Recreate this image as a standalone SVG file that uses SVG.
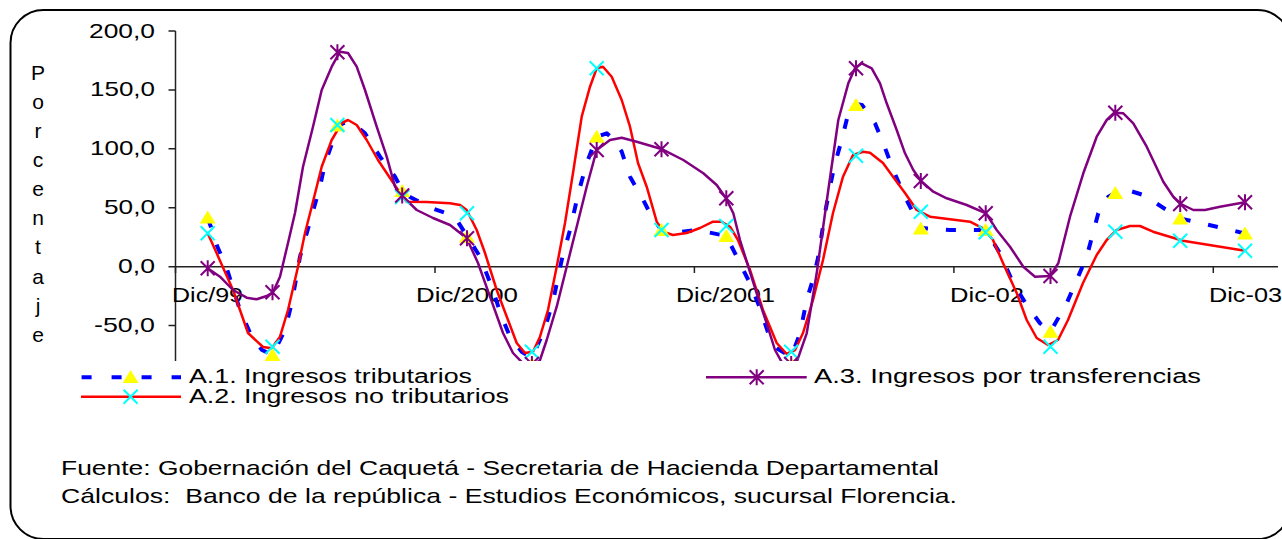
<svg xmlns="http://www.w3.org/2000/svg" width="1282" height="539" viewBox="0 0 1282 539">
<style>
.t{font-family:"Liberation Sans",Arial,sans-serif;font-size:21px;fill:#000}
.lg{font-size:20px}
.ax{stroke:#222;stroke-width:1.5;fill:none}
.blue{fill:none;stroke:#0000FF;stroke-width:4;stroke-dasharray:10,18;stroke-linejoin:round}
.red{fill:none;stroke:#FF0000;stroke-width:2.5;stroke-linejoin:round;stroke-linecap:round}
.pur{fill:none;stroke:#800080;stroke-width:2.5;stroke-linejoin:round;stroke-linecap:round}
</style>
<defs>
<clipPath id="plot"><rect x="175" y="0" width="1107" height="361"/></clipPath>
<path id="tri" d="M0,-7 L8,6 L-8,6 Z" fill="#FFFF00"/>
<path id="xm" d="M-7,-7 L7,7 M-7,7 L7,-7" stroke="#00FFFF" stroke-width="2" fill="none"/>
<path id="as" d="M-7,-7 L7,7 M-7,7 L7,-7 M0,-8 L0,8" stroke="#800080" stroke-width="2" fill="none"/>
</defs>
<rect width="1282" height="539" fill="#fff"/>
<rect id="frame" x="10.5" y="10" width="1280" height="529" rx="33" ry="33" fill="none" stroke="#000" stroke-width="2"/>

<g id="yaxis-title" class="t" text-anchor="middle">
<text x="38" y="79.8">P</text><text x="38" y="108.9">o</text><text x="38" y="138">r</text><text x="38" y="167.1">c</text><text x="38" y="196.2">e</text><text x="38" y="225.3">n</text><text x="38" y="254.4">t</text><text x="38" y="283.5">a</text><text x="38" y="312.6">j</text><text x="38" y="341.7">e</text>
</g>

<g id="axes">
<path class="ax" d="M175.5,31 V361 M168.5,31 H175.5 M168.5,89.9 H175.5 M168.5,148.8 H175.5 M168.5,207.8 H175.5 M168.5,266.7 H175.5 M168.5,325.6 H175.5"/>
<path class="ax" d="M175.5,266.7 H1278 M175.5,266.7 V273 M435,266.7 V273 M694.4,266.7 V273 M953.9,266.7 V273 M1213.3,266.7 V273"/>
<g class="t" text-anchor="end">
<text x="155" y="37.5" textLength="66" lengthAdjust="spacingAndGlyphs">200,0</text>
<text x="155" y="96.2" textLength="65" lengthAdjust="spacingAndGlyphs">150,0</text>
<text x="155" y="155.3" textLength="65" lengthAdjust="spacingAndGlyphs">100,0</text>
<text x="155" y="214.3" textLength="51" lengthAdjust="spacingAndGlyphs">50,0</text>
<text x="155" y="273.2" textLength="37" lengthAdjust="spacingAndGlyphs">0,0</text>
<text x="155" y="332.1" textLength="61" lengthAdjust="spacingAndGlyphs">-50,0</text>
</g>
<g class="t">
<text x="172" y="302" textLength="71" lengthAdjust="spacingAndGlyphs">Dic/99</text>
<text x="416" y="302" textLength="102" lengthAdjust="spacingAndGlyphs">Dic/2000</text>
<text x="676" y="302" textLength="99" lengthAdjust="spacingAndGlyphs">Dic/2001</text>
<text x="950" y="302" textLength="74" lengthAdjust="spacingAndGlyphs">Dic-02</text>
<text x="1209" y="302" textLength="73" lengthAdjust="spacingAndGlyphs">Dic-03</text>
</g>
</g>

<g id="connectors" clip-path="url(#plot)">
<polyline id="line-a1" class="blue" points="207.7,218 212,230 216.7,245 226.7,268.3 240,310 251.7,336.7 262,350 272.5,355 285,330 291.7,303.3 300,256.7 306.7,233.3 313.3,210 320,186.7 325,163.3 333.3,140 337.4,126 346.7,121.7 355,125 365,133.3 380,156.7 395,176.7 402.2,190 410,197 431.7,208.3 446.7,213.3 458,222 467,236 480,256.7 491.7,286.7 501.7,316.7 510,336.7 521.7,351.7 531.9,358 545,328.3 553.3,300 561.7,260 570,230 578.3,193.3 586.7,163.3 596.7,137 606.7,133.3 614,140 621.7,151.7 630,176.7 643.3,200 651.7,216.7 661.5,230 670,233.3 696.7,230 726.3,236 740,263.3 750,283.3 760,308.3 768.3,333.3 776.7,348.3 791.2,357 800,333.3 806.7,300 813.3,278.3 818.3,256.7 825,213.3 830,186.7 835,163.3 841.7,140 848.3,113.3 856,104 862,105 875,123.3 883.3,143.3 893.3,170 903.3,193.3 913.3,213.3 920.8,228 950,230 985.7,230 1000,253.3 1013.3,283.3 1026.7,305 1040,323.3 1050.5,331.7 1066.7,303.3 1076.7,280 1086.7,256.7 1098.3,213.3 1108.3,196.7 1115.3,193 1121.7,188.3 1143.3,195 1166.7,210 1180.2,218.5 1216.7,226.7 1245,233.5"/>
<polyline id="line-a2" class="red" points="207.7,233.3 216.7,253.3 233,290 248,333 263,347 271.7,348.3 280,336.7 288,310 298,266.7 305,233 311.7,206.7 321.7,166.7 331.7,140 341.7,123 348,120 356.7,125 366.7,140 378,160 390,178 400,193 406.7,201.7 426.7,202 450,203.3 460,205 466.7,210 476.7,230 485,253 496.7,290 508,320 516.7,343 525,353 533,351.7 540,336.7 548,310 556.7,266.7 565,223 573,173 581.7,116.7 590,86.7 596.7,68.3 603,66.7 611.7,76.7 621.7,100 630,126.7 638,163 646.7,186.7 656.7,221.7 663,231.7 673,235 686.7,233 700,228 713,221.7 721.7,221.7 730,226.7 738,240 750,270 763,310 776.7,343 786.7,354 795,350 803,333 813,300 823,260 833,213 843,176.7 853,155 863,151.7 870,152.7 883,163 893,176.7 905,193 916.7,210 930,216.7 950,219.3 970,221.7 983,228.3 993,240 1003,263 1016.7,293 1026.7,320 1036.7,338 1048,345 1058,340 1068,320 1083,283 1096.7,255 1106.7,240 1116.7,230 1130,226 1140,226 1153,231.7 1183,240.7 1245,250.7"/>
<polyline id="line-a3" class="pur" points="207.7,268.3 220,276.7 233,290 246.7,297.7 256.7,299.3 266.7,296 273,292.3 280,276.7 288,243 295,213 303,166.7 313,126.7 321.7,90 331.7,66.7 340,51.7 348,53 356.7,66.7 365,90 376.7,126.7 386.7,156.7 395,186.7 403,196.7 416.7,210 433,218 450,225 466.7,238.3 478,263 490,296.7 503,333 513,353 521.7,362 531,368 540,360 546.7,340 556.7,306.7 566.7,266.7 576.7,226.7 586.7,186.7 596.7,150 610,140 621.7,137.7 636.7,141.7 662.3,149.3 683.3,160 703.3,173.3 716.7,185 726,198.3 733.3,213.3 740,240 748.3,266.7 756.7,293.3 766.7,323.3 775,350 781.7,362 791,368 796.7,362 806.7,333.3 816.7,273.3 828.3,190 838.3,120 848.3,83.3 855,68.3 861.7,63.3 871.7,68.3 880,83.3 886.7,103.3 896.7,130 905,153.3 913.3,170 921,181 933.3,191.7 946.7,198.3 966.7,205 986,213.3 996.7,230 1010,246.7 1023.3,266.7 1035,276.7 1050,276 1058.3,263.3 1070,216.7 1083.3,173.3 1096.7,136.7 1106.7,120 1114.3,112.7 1123.3,113.3 1133.3,123.3 1146.7,146.7 1163.3,181.7 1173.3,196.7 1181,204 1193.3,210 1205,210 1220,206.7 1245,202.3"/>
</g>

<g id="markers" clip-path="url(#plot)">
<g id="markers-a1">
<use href="#tri" x="207.7" y="217.5"/><use href="#tri" x="272.5" y="355"/><use href="#tri" x="337.4" y="125.5"/><use href="#tri" x="402.2" y="191"/><use href="#tri" x="467" y="236.7"/><use href="#tri" x="531.9" y="364"/><use href="#tri" x="596.7" y="136.7"/><use href="#tri" x="661.5" y="230"/><use href="#tri" x="726.3" y="236"/><use href="#tri" x="791.2" y="364"/><use href="#tri" x="856" y="105"/><use href="#tri" x="920.8" y="228.5"/><use href="#tri" x="985.7" y="230"/><use href="#tri" x="1050.5" y="331.7"/><use href="#tri" x="1115.3" y="193"/><use href="#tri" x="1180.2" y="218.5"/><use href="#tri" x="1245" y="233.5"/>
</g>
<g id="markers-a2">
<use href="#xm" x="207.7" y="233.3"/><use href="#xm" x="272.5" y="346.7"/><use href="#xm" x="337.4" y="125"/><use href="#xm" x="402.2" y="197"/><use href="#xm" x="467" y="213.3"/><use href="#xm" x="531.9" y="351.7"/><use href="#xm" x="596.7" y="68.3"/><use href="#xm" x="661.5" y="230"/><use href="#xm" x="726.3" y="226"/><use href="#xm" x="791.2" y="351.7"/><use href="#xm" x="856" y="155.7"/><use href="#xm" x="920.8" y="211.7"/><use href="#xm" x="985.7" y="232.3"/><use href="#xm" x="1050.5" y="346.7"/><use href="#xm" x="1115.3" y="231.7"/><use href="#xm" x="1180.2" y="240.7"/><use href="#xm" x="1245" y="250.7"/>
</g>
<g id="markers-a3">
<use href="#as" x="207.7" y="268.3"/><use href="#as" x="272.5" y="292.3"/><use href="#as" x="337.4" y="52.3"/><use href="#as" x="402.2" y="195.5"/><use href="#as" x="467" y="238.3"/><use href="#as" x="531.9" y="364"/><use href="#as" x="596.7" y="150"/><use href="#as" x="661.5" y="149.3"/><use href="#as" x="726.3" y="198.3"/><use href="#as" x="791.2" y="364"/><use href="#as" x="856" y="68.3"/><use href="#as" x="920.8" y="181"/><use href="#as" x="985.7" y="213.3"/><use href="#as" x="1050.5" y="276"/><use href="#as" x="1115.3" y="112.7"/><use href="#as" x="1180.2" y="204"/><use href="#as" x="1245" y="202.3"/>
</g>
</g>

<g id="legend">
<g id="legend-a1">
<line x1="81.6" y1="377.3" x2="181" y2="377.3" stroke="#0000FF" stroke-width="4" stroke-dasharray="10,20"/>
<use href="#tri" x="130.6" y="377"/>
<text class="t lg" x="189" y="382.7" textLength="283" lengthAdjust="spacingAndGlyphs">A.1. Ingresos tributarios</text>
</g>
<g id="legend-a2">
<line x1="81" y1="396.7" x2="181" y2="396.7" stroke="#FF0000" stroke-width="2.5"/>
<use href="#xm" x="130.6" y="396.7"/>
<text class="t lg" x="189" y="403" textLength="320" lengthAdjust="spacingAndGlyphs">A.2. Ingresos no tributarios</text>
</g>
<g id="legend-a3">
<line x1="706" y1="377.3" x2="806.7" y2="377.3" stroke="#800080" stroke-width="2.5"/>
<use href="#as" x="756.7" y="377.3"/>
<text class="t lg" x="814" y="382.7" textLength="387" lengthAdjust="spacingAndGlyphs">A.3. Ingresos por transferencias</text>
</g>
</g>

<g id="source">
<text class="t" x="61" y="475" textLength="878" lengthAdjust="spacingAndGlyphs">Fuente: Gobernación del Caquetá - Secretaria de Hacienda Departamental</text>
<text class="t" x="61" y="503" textLength="896" lengthAdjust="spacingAndGlyphs" xml:space="preserve">Cálculos:  Banco de la república - Estudios Económicos, sucursal Florencia.</text>
</g>
</svg>
